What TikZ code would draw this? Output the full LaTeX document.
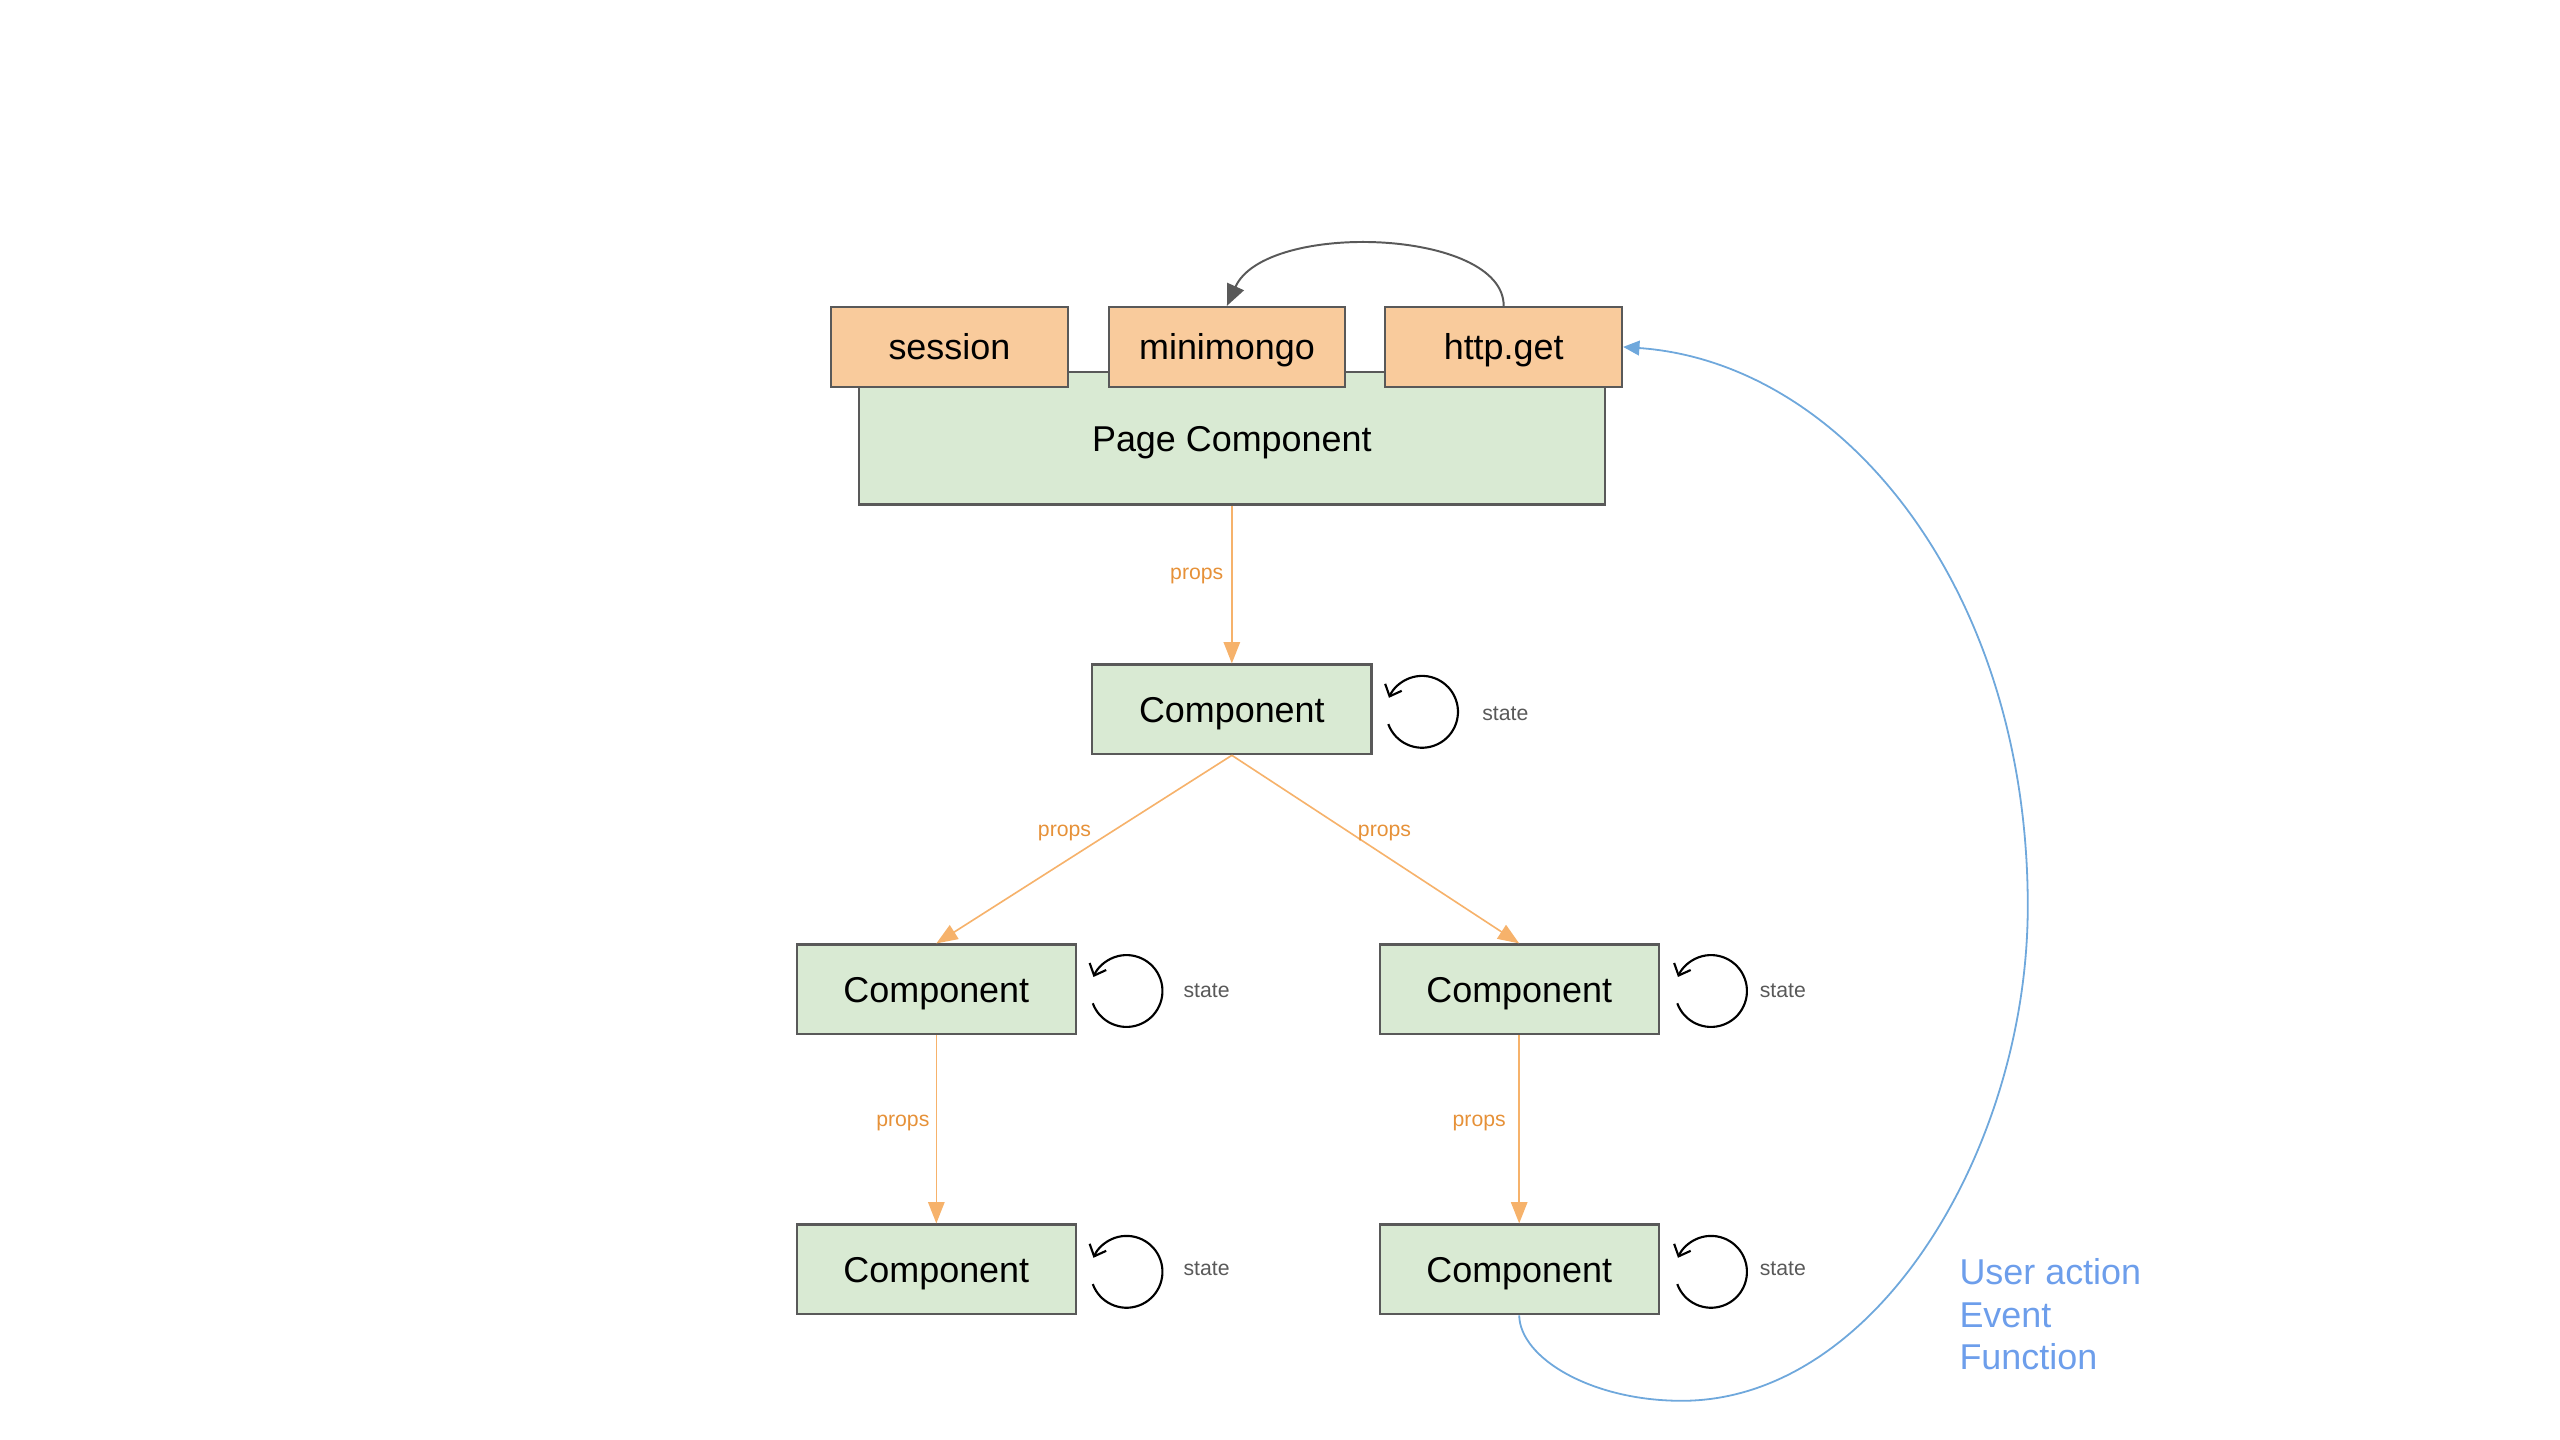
\documentclass[tikz,border=0pt]{standalone}
\usepackage{fontspec}
\setmainfont{Liberation Sans}
\usetikzlibrary{arrows.meta,calc}
\definecolor{orangefill}{HTML}{F9CB9C}
\definecolor{greenfill}{HTML}{D9EAD3}
\definecolor{boxborder}{HTML}{595959}
\definecolor{proporange}{HTML}{F6B26B}
\definecolor{proptext}{HTML}{E69138}
\definecolor{stategray}{HTML}{595959}
\definecolor{bluecurve}{HTML}{6FA8DC}
\definecolor{bluetext}{HTML}{6D9EEB}
\begin{document}
\begin{tikzpicture}[x=1pt,y=1pt,
  basebox/.style={draw=boxborder, line width=1.3pt, inner sep=0pt, text=black,
    text height=18pt, text depth=2pt,
    font=\fontsize{22}{26}\selectfont},
  srcbox/.style={basebox, fill=orangefill, minimum width=145pt, minimum height=49pt},
  pagebox/.style={basebox, fill=greenfill, minimum width=457pt, minimum height=81pt},
  compbox/.style={basebox, fill=greenfill, minimum width=171pt, minimum height=55pt},
  proparrow/.style={draw=proporange, line width=1pt, -{Triangle[length=13pt,width=10pt,fill=proporange]}},
  propslabel/.style={text=proptext, font=\fontsize{13}{15}\selectfont, inner sep=0pt},
  statelabel/.style={text=stategray, font=\fontsize{13}{15}\selectfont, inner sep=0pt},
  stateloop/.style={draw=black, line width=1.3pt, -{Straight Barb[length=6pt,width=11pt]}},
  fetcharrow/.style={draw=boxborder, line width=1.2pt, -{Triangle[length=13pt,width=11pt,fill=boxborder]}},
  userarrow/.style={draw=bluecurve, line width=1.1pt, -{Triangle[length=10pt,width=9pt,fill=bluecurve]}},
  usertext/.style={text=bluetext, font=\fontsize{22}{26}\selectfont, align=left, inner sep=0pt}
]
\useasboundingbox (0,0) rectangle (1568,882);

% page component (behind the source boxes)
\node[pagebox] (page) at (754.5,613.5) {Page Component};
\node[srcbox] (session) at (581.5,669.5) {session};
\node[srcbox] (mini) at (751.5,669.5) {minimongo};
\node[srcbox] (http) at (921,669.5) {http.get};

% components
\node[compbox] (c1) at (754.5,447.5) {Component};
\node[compbox] (l2) at (573.5,276) {Component};
\node[compbox] (r2) at (930.5,276) {Component};
\node[compbox] (l3) at (573.5,104.5) {Component};
\node[compbox] (r3) at (930.5,104.5) {Component};

% props arrows
\draw[proparrow] (page.south) -- (c1.north);
\draw[proparrow] (c1.south) -- (l2.north);
\draw[proparrow] (c1.south) -- (r2.north);
\draw[proparrow] (l2.south) -- (l3.north);
\draw[proparrow] (r2.south) -- (r3.north);

\node[propslabel] (p1) at (733,529) {props};
\node[propslabel] (p2) at (652,372) {props};
\node[propslabel] (p3) at (848,372) {props};
\node[propslabel] (p4) at (553,194) {props};
\node[propslabel] (p5) at (906,194) {props};

% state loops
\foreach \n/\cx/\cy in {s1/871/446, s2/690/275, s3/1048/275, s4/690/103, s5/1048/103}{
  \coordinate (\n) at (\cx,\cy);
  \draw[stateloop] ($(\n)+(200:22pt)$) arc[start angle=200, end angle=517, radius=22pt];
}
\node[statelabel] (st1) at (922,445) {state};
\node[statelabel] (st2) at (739,275) {state};
\node[statelabel] (st3) at (1092,275) {state};
\node[statelabel] (st4) at (739,105) {state};
\node[statelabel] (st5) at (1092,105) {state};

% fetch arrow
\draw[fetcharrow] (http.north) .. controls (921,742) and (775,747) .. (mini.north);

% user action loop
\coordinate (ub) at (1030,24);
\coordinate (ur) at (1242,327);
\draw[userarrow] (r3.south) .. controls (931,50) and (975,24) .. (ub)
  .. controls (1150,24) and (1242,180) .. (ur)
  .. controls (1242,520) and (1130,660) .. (http.east);

\node[usertext, anchor=west] (ua) at (1200,77) {User action\\Event\\Function};
\end{tikzpicture}
\end{document}
